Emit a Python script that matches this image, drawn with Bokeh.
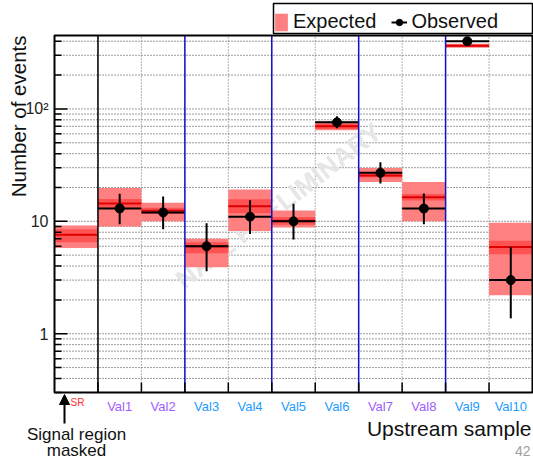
from math import pi, log10
from bokeh.plotting import figure
from bokeh.core.properties import value
from bokeh.models import (ColumnDataSource, Range1d, Label, LabelSet,
                          Arrow, NormalHead, Legend, LegendItem)
from bokeh.embed import file_html
from bokeh.resources import INLINE

# ---------------- data ----------------
categories = ["SR", "Val1", "Val2", "Val3", "Val4", "Val5", "Val6", "Val7", "Val8", "Val9", "Val10"]
label_groups = ["SR", "A", "A", "B", "B", "B", "B", "A", "A", "B", "B"]
expected = [7.6, 14.4, 12.4, 6.0, 13.6, 10.1, 70.3, 25.6, 16.4, 365.0, 5.9]
inner_low = [6.5, 12.9, 11.6, 5.2, 11.8, 9.3, 66.3, 24.5, 15.3, 356.0, 5.1]
inner_high = [8.5, 15.8, 13.2, 6.5, 15.7, 10.9, 73.7, 27.4, 17.5, 374.0, 6.7]
outer_low = [5.8, 9.0, 10.0, 3.9, 8.2, 8.8, 64.5, 22.4, 10.0, 350.0, 2.2]
outer_high = [9.2, 19.8, 14.6, 7.0, 19.2, 12.5, 77.4, 29.8, 22.4, 381.0, 9.7]
observed = [None, 13, 12, 6, 11, 10, 76, 27, 13, 400, 3]
obs_low = [None, 9.4, 8.5, 3.6, 7.7, 6.9, 67.3, 21.7, 9.4, 380.0, 1.37]
obs_high = [None, 17.6, 16.6, 9.6, 15.4, 14.3, 86.0, 33.5, 17.7, 421.0, 5.9]
block_ends = ["Val2", "Val4", "Val6", "Val8"]
masked_bin = "SR"
y_major_ticks = [1, 10, 100]
y_tick_labels = ["1", "10", "10\u00b2"]
y_decades = [0.1, 1, 10, 100]

# ---------------- layout ----------------
W, H = 533, 459
FL, FR, FT, FB = 54, 532, 35, 392          # visible frame in canvas pixels
Y0, Y1 = 0.3, 450.0
nb = len(categories)
FONT = "Liberation Sans"
group_colors = {"SR": "#ff2d2d", "A": "#a05cff", "B": "#229cff"}
GRID = "#3a3a3a"

ppb = (FR - FL) / nb
ppd = (FB - FT) / log10(Y1 / Y0)


def X(px):
    return (px - FL) / ppb


def Yv(py):
    return Y0 * 10 ** ((FB - py) / ppd)


p = figure(width=W, height=H, y_axis_type="log",
           x_axis_location=None, y_axis_location=None,
           x_range=Range1d(X(0), X(W)), y_range=Range1d(Yv(H), Yv(0)),
           output_backend="svg", toolbar_location=None, min_border=0)
p.grid.visible = False
p.outline_line_color = None
p.background_fill_color = "white"
p.border_fill_color = "white"

# ---------------- grid ----------------
grid_vals = [m * d for d in y_decades for m in range(1, 10) if Y0 - 1e-9 <= m * d <= Y1 + 1e-9]
p.segment(x0=[0] * len(grid_vals), x1=[nb] * len(grid_vals), y0=grid_vals, y1=grid_vals,
          line_color=GRID, line_dash="1 2", line_width=1)
edges = list(range(1, nb))
p.segment(x0=edges, x1=edges, y0=[Y0] * len(edges), y1=[Y1] * len(edges),
          line_color="#6a6a6a", line_dash="1 2", line_width=1)

# watermark
p.text(x=[X(278)], y=[Yv(205)], text=["NA62 PRELIMINARY"], angle=0.66,
       text_align="center", text_baseline="middle", text_color="#e6e6e6",
       text_font=value(FONT), text_font_size="26px", text_font_style="bold")

# ---------------- expected bands ----------------
lefts = [float(i) for i in range(nb)]
rights = [float(i + 1) for i in range(nb)]
centers = [i + 0.5 for i in range(nb)]
exp_src = ColumnDataSource(dict(left=lefts, right=rights, exp=expected,
                                ilo=inner_low, ihi=inner_high,
                                olo=outer_low, ohi=outer_high))
outer_r = p.quad(left="left", right="right", bottom="olo", top="ohi", source=exp_src,
                 fill_color="#ff8080", line_color=None)
p.quad(left="left", right="right", bottom="ilo", top="ihi", source=exp_src,
       fill_color="#ff5252", line_color=None)
p.segment(x0="left", x1="right", y0="exp", y1="exp", source=exp_src,
          line_color="#dd0000", line_width=2)

# ---------------- observed ----------------
idx = [i for i in range(nb) if observed[i] is not None]
obs_src = ColumnDataSource(dict(left=[lefts[i] for i in idx], right=[rights[i] for i in idx],
                                x=[centers[i] for i in idx], y=[observed[i] for i in idx],
                                lo=[obs_low[i] for i in idx], hi=[obs_high[i] for i in idx]))
hbar = p.segment(x0="left", x1="right", y0="y", y1="y", source=obs_src,
                 line_color="black", line_width=2)
p.segment(x0="x", x1="x", y0="lo", y1="hi", source=obs_src,
          line_color="black", line_width=2)
dots = p.scatter(x="x", y="y", source=obs_src, size=9, marker="circle",
                 fill_color="black", line_color="black")

# ---------------- bin dividers ----------------
mask_edge = categories.index(masked_bin) + 1
p.segment(x0=[mask_edge], x1=[mask_edge], y0=[Y0], y1=[Y1], line_color="black", line_width=1.5)
blue_edges = [categories.index(n) + 1 for n in block_ends]
p.segment(x0=blue_edges, x1=blue_edges, y0=[Y0] * len(blue_edges), y1=[Y1] * len(blue_edges),
          line_color="#1010cc", line_width=1.5)

# ---------------- axes (frame, ticks, tick labels) ----------------
minor_vals = [v for v in grid_vals if all(abs(v - m) > 1e-9 for m in y_major_ticks)]
p.segment(x0=[0] * len(minor_vals), x1=[X(FL + 7)] * len(minor_vals), y0=minor_vals, y1=minor_vals,
          line_color="black", line_width=1.5)
p.segment(x0=[0] * len(y_major_ticks), x1=[X(FL + 13)] * len(y_major_ticks),
          y0=y_major_ticks, y1=y_major_ticks, line_color="black", line_width=1.5)
p.segment(x0=edges, x1=edges, y0=[Y0] * len(edges), y1=[Yv(FB - 10)] * len(edges),
          line_color="black", line_width=1.5)
p.quad(left=[0], right=[nb], bottom=[Y0], top=[Y1], fill_color=None,
       line_color="black", line_width=2)
p.text(x=[X(FL - 6)] * len(y_major_ticks), y=y_major_ticks, text=y_tick_labels,
       text_align="right", text_baseline="middle", text_color="#222222",
       text_font=value(FONT), text_font_size="16px")

# ---------------- legend ----------------
p.quad(left=[X(273)], right=[X(532)], top=[Yv(3)], bottom=[Yv(33)],
       fill_color="white", line_color="black", line_width=1.5)
legend = Legend(items=[LegendItem(label="Expected", renderers=[outer_r]),
                       LegendItem(label="Observed", renderers=[hbar, dots])],
                orientation="horizontal", location=(273, H - 33),
                border_line_color=None, background_fill_alpha=0,
                label_text_font=FONT, label_text_font_size="20px",
                label_text_color="#111111",
                glyph_width=16, glyph_height=22, label_standoff=4,
                label_width=80, spacing=15, padding=4, margin=0)
p.add_layout(legend)

# ---------------- bin labels and texts below the frame ----------------
lab_idx = [i for i in range(nb) if categories[i] != masked_bin]
lab_src = ColumnDataSource(dict(x=[centers[i] for i in lab_idx],
                                text=[categories[i] for i in lab_idx],
                                color=[group_colors[label_groups[i]] for i in lab_idx]))
p.add_layout(LabelSet(x="x", y=Yv(406), text="text", text_color="color", source=lab_src,
                      text_align="center", text_baseline="middle",
                      text_font=value(FONT), text_font_size="13px"))

p.add_layout(Label(x=X(70), y=Yv(402), text=masked_bin, text_align="left",
                   text_baseline="middle", text_color=group_colors["SR"],
                   text_font=FONT, text_font_size="10px"))
p.add_layout(Arrow(end=NormalHead(size=10, fill_color="black", line_color="black"),
                   x_start=X(64), y_start=Yv(423), x_end=X(64), y_end=Yv(394),
                   line_color="black", line_width=2))
p.add_layout(Label(x=X(76), y=Yv(434), text="Signal region", text_align="center",
                   text_baseline="middle", text_color="#111111",
                   text_font=FONT, text_font_size="17px"))
p.add_layout(Label(x=X(76), y=Yv(450), text="masked", text_align="center",
                   text_baseline="middle", text_color="#111111",
                   text_font=FONT, text_font_size="17px"))

p.add_layout(Label(x=X(531), y=Yv(428), text="Upstream sample", text_align="right",
                   text_baseline="middle", text_color="#111111",
                   text_font=FONT, text_font_size="21px"))
p.add_layout(Label(x=X(18), y=Y1, text="Number of events", angle=pi / 2,
                   text_align="right", text_baseline="middle", text_color="#111111",
                   text_font=FONT, text_font_size="20.5px"))
p.add_layout(Label(x=X(530), y=Yv(450), text="42", text_align="right",
                   text_baseline="middle", text_color="#a0a0a0",
                   text_font=FONT, text_font_size="14px"))

open("out.html", "w").write(file_html(p, INLINE))
